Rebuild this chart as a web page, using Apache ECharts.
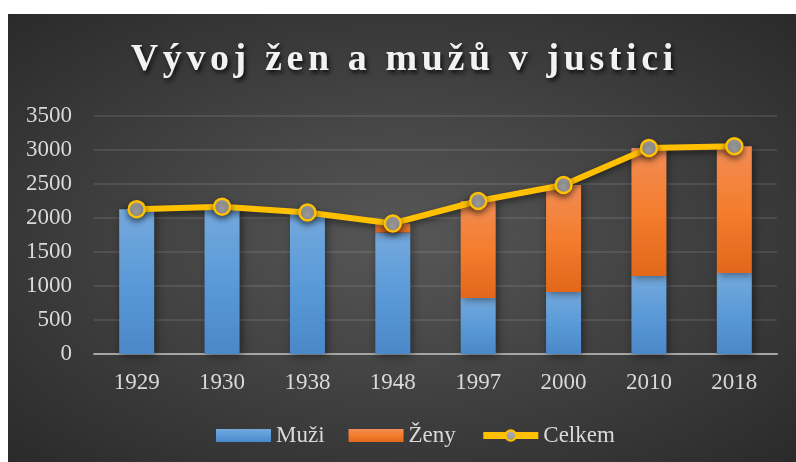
<!DOCTYPE html>
<html>
<head>
<meta charset="utf-8">
<script src="https://cdn.jsdelivr.net/npm/echarts@6/dist/echarts.min.js"></script>
<style>
html,body{margin:0;padding:0;background:#fff;width:796px;height:462px;overflow:hidden;}
#chart{position:absolute;left:8px;top:14px;width:788px;height:448px;
background:radial-gradient(ellipse at 50% 50%, #575757 0%, #3e3e3e 55%, #2a2a2a 100%);}
</style>
</head>
<body>
<div id="chart"></div>
<script>
const titleText = 'Vývoj žen a mužů v justici';
const categories = ['1929', '1930', '1938', '1948', '1997', '2000', '2010', '2018'];
const muzi = [2130, 2165, 2080, 1785, 825, 912, 1147, 1190];
const zeny = [0, 0, 0, 135, 1425, 1573, 1883, 1865];
const celkem = [2130, 2165, 2080, 1920, 2250, 2485, 3030, 3055];
const seriesNames = ['Muži', 'Ženy', 'Celkem'];

const FONT = '"Liberation Serif", "Times New Roman", serif';
const chart = echarts.init(document.getElementById('chart'));

const richTitle = titleText.split('').map(c => '{t|' + c + '}').join('');

chart.setOption({
  backgroundColor: 'transparent',
  title: {
    text: richTitle,
    left: 'center',
    top: 22,
    textStyle: {
      rich: {
        t: {
          fontFamily: FONT,
          fontSize: 38,
          fontWeight: 'bold',
          color: '#f2f2f2',
          padding: [0, 2.3, 0, 2.3],
          textShadowColor: 'rgba(0,0,0,0.75)',
          textShadowBlur: 4,
          textShadowOffsetX: 2,
          textShadowOffsetY: 3
        }
      }
    }
  },
  legend: {
    bottom: 10,
    left: 203,
    itemWidth: 55,
    itemHeight: 13,
    itemGap: 24,
    data: [
      { name: seriesNames[0], icon: 'rect' },
      { name: seriesNames[1], icon: 'rect' },
      { name: seriesNames[2] }
    ],
    lineStyle: { width: 7 },
    textStyle: { fontFamily: FONT, fontSize: 23, color: '#d9d9d9' }
  },
  grid: { left: 86, right: 19, top: 102, bottom: 108, containLabel: false },
  xAxis: {
    type: 'category',
    data: categories,
    axisTick: { show: false },
    axisLine: { lineStyle: { color: '#a6a6a6', width: 2 } },
    axisLabel: { fontFamily: FONT, fontSize: 23, color: '#d9d9d9', margin: 17 }
  },
  yAxis: {
    type: 'value',
    min: 0,
    max: 3500,
    interval: 500,
    axisLine: { show: false },
    axisTick: { show: false },
    axisLabel: {
      fontFamily: FONT, fontSize: 23, color: '#d9d9d9', margin: 22,
      formatter: v => String(v)
    },
    splitLine: { lineStyle: { color: 'rgba(255,255,255,0.13)', width: 1.5 } }
  },
  series: [
    {
      name: seriesNames[0],
      type: 'bar',
      stack: 'total',
      barWidth: '41%',
      data: muzi,
      itemStyle: {
        color: new echarts.graphic.LinearGradient(0, 0, 0, 1, [
          { offset: 0, color: '#74a9dd' },
          { offset: 0.5, color: '#5b9ad8' },
          { offset: 1, color: '#4a88c9' }
        ]),
        shadowColor: 'rgba(0,0,0,0.45)',
        shadowBlur: 8,
        shadowOffsetX: 2,
        shadowOffsetY: 2
      }
    },
    {
      name: seriesNames[1],
      type: 'bar',
      stack: 'total',
      data: zeny,
      itemStyle: {
        color: new echarts.graphic.LinearGradient(0, 0, 0, 1, [
          { offset: 0, color: '#f28c54' },
          { offset: 0.5, color: '#f47d2e' },
          { offset: 1, color: '#e2671a' }
        ]),
        shadowColor: 'rgba(0,0,0,0.45)',
        shadowBlur: 8,
        shadowOffsetX: 2,
        shadowOffsetY: 2
      }
    },
    {
      name: seriesNames[2],
      type: 'line',
      data: celkem,
      symbol: 'circle',
      symbolSize: 16,
      z: 5,
      lineStyle: {
        color: '#ffc000',
        width: 6,
        shadowColor: 'rgba(0,0,0,0.5)',
        shadowBlur: 6,
        shadowOffsetY: 3
      },
      itemStyle: {
        color: new echarts.graphic.LinearGradient(0, 0, 0, 1, [
          { offset: 0, color: '#b0b0b0' },
          { offset: 1, color: '#969696' }
        ]),
        borderColor: '#ffc000',
        borderWidth: 2.5,
        shadowColor: 'rgba(0,0,0,0.5)',
        shadowBlur: 6,
        shadowOffsetY: 3
      }
    }
  ]
});
</script>
</body>
</html>
